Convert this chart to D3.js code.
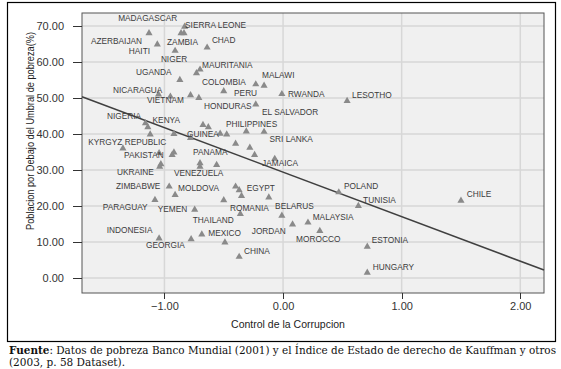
<!DOCTYPE html>
<html lang="es">
  <head>
    <meta charset="utf-8">
    <title>Pobreza vs Control de la Corrupcion</title>
    <script src="https://cdn.jsdelivr.net/npm/d3@7"></script>
    <style>
      body { margin: 0; background: #fff; }
      .axis path { display: none; }
      .axis line { stroke: #333; shape-rendering: crispEdges; }
      .axis text { font-family: "Liberation Sans", Arial, sans-serif; font-size: 11px; fill: #333; }
      .lbl { font-family: "Liberation Sans", Arial, sans-serif; font-size: 8.3px; fill: #3c3c3c; }
    </style>
  </head>
  <body>
    <script>

    //Width and height
    var w = 561;
    var h = 369;

    //Scatter points: [control de la corrupcion, % bajo umbral de pobreza]
    var points = [
      [-1.13, 68.0], [-0.83, 69.8], [-0.86, 68.0], [-0.835, 68.0], [-1.06, 64.9],
      [-0.64, 64.0], [-0.91, 63.1], [-0.73, 56.9], [-0.70, 57.9], [-0.87, 55.0],
      [-0.23, 53.8], [-0.16, 53.4], [-0.50, 51.9], [-0.01, 51.1], [0.54, 49.2],
      [-1.05, 51.0], [-0.95, 50.4], [-0.78, 50.8], [-0.71, 50.0], [-0.23, 48.2],
      [-1.16, 43.0], [-1.14, 41.9], [-1.12, 39.9], [-0.92, 40.0], [-0.78, 38.9],
      [-0.675, 42.5], [-0.63, 41.9], [-0.53, 40.1], [-0.475, 39.9], [-0.40, 37.3],
      [-0.31, 40.7], [-0.16, 40.6], [-0.28, 36.2], [-0.24, 34.2], [-0.07, 33.1],
      [-1.35, 36.0], [-1.045, 34.7], [-0.935, 34.2], [-0.92, 34.9], [-1.03, 31.6],
      [-1.04, 30.9], [-0.70, 31.9], [-0.70, 30.9], [-0.56, 31.4], [-0.96, 25.4],
      [-0.91, 23.1], [-1.08, 21.7], [-0.50, 21.6], [-0.40, 25.4], [-0.37, 24.4],
      [-0.35, 22.8], [-0.12, 22.4], [-0.745, 19.0], [-0.36, 17.8], [-0.01, 17.3],
      [-1.045, 11.0], [-0.775, 10.8], [-0.685, 12.1], [-0.49, 9.9], [0.08, 14.9],
      [0.21, 15.4], [-0.37, 5.9], [0.31, 13.1], [0.47, 23.8], [0.635, 20.0],
      [1.50, 21.5], [0.71, 8.7], [0.71, 1.5]
    ];

    //Country labels: [name, x, y] (left edge of text, in data units)
    var labels = [
      ["MADAGASCAR", -1.39, 72.2], ["SIERRA LEONE", -0.826, 70.3], ["AZERBAIJAN", -1.62, 65.9],
      ["ZAMBIA", -0.978, 65.6], ["CHAD", -0.60, 66.1], ["HAITI", -1.30, 62.9],
      ["NIGER", -1.03, 60.75], ["MAURITANIA", -0.683, 59.0], ["UGANDA", -1.24, 57.1],
      ["COLOMBIA", -0.683, 54.4], ["MALAWI", -0.177, 56.25], ["NICARAGUA", -1.433, 52.2],
      ["PERU", -0.413, 51.25], ["RWANDA", 0.042, 51.1], ["LESOTHO", 0.582, 50.75],
      ["VIETNAM", -1.147, 49.4], ["HONDURAS", -0.666, 47.8], ["EL SALVADOR", -0.177, 46.0],
      ["NIGERIA", -1.484, 45.0], ["KENYA", -1.10, 43.75], ["PHILIPPINES", -0.481, 42.8],
      ["GUINEA", -0.809, 40.0], ["KYRGYZ REPUBLIC", -1.642, 37.7], ["SRI LANKA", -0.114, 38.5],
      ["PANAMA", -0.759, 35.1], ["PAKISTAN", -1.341, 34.2], ["JAMAICA", -0.177, 32.0],
      ["UKRAINE", -1.40, 29.5], ["VENEZUELA", -0.919, 29.1], ["ZIMBABWE", -1.408, 25.4],
      ["MOLDOVA", -0.885, 24.9], ["EGYPT", -0.306, 25.1], ["POLAND", 0.514, 25.4],
      ["CHILE", 1.549, 23.3], ["TUNISIA", 0.675, 21.5], ["BELARUS", -0.067, 20.1],
      ["PARAGUAY", -1.52, 19.6], ["YEMEN", -1.056, 19.1], ["ROMANIA", -0.447, 19.4],
      ["MALAYSIA", 0.25, 17.0], ["THAILAND", -0.761, 16.0], ["INDONESIA", -1.486, 13.3],
      ["JORDAN", -0.264, 12.9], ["MEXICO", -0.63, 12.4], ["MOROCCO", 0.11, 10.8],
      ["ESTONIA", 0.748, 10.6], ["GEORGIA", -1.155, 9.2], ["CHINA", -0.329, 7.6],
      ["HUNGARY", 0.756, 3.1]
    ];

    //Fitted line: [intercept, slope]
    var fitLine = [29.4, -12.36];

    //Tick values
    var xTicks = [-1, 0, 1, 2];
    var yTicks = [0, 10, 20, 30, 40, 50, 60, 70];

    //Create scale functions
    var xScale = d3.scaleLinear()
               .domain([-1.695, 2.20])
               .range([82, 544]);

    var yScale = d3.scaleLinear()
               .domain([-4.17, 73.6])
               .range([293, 13]);

    //Create SVG element
    var svg = d3.select("body")
          .append("svg")
          .attr("width", w)
          .attr("height", h);

    //Outer frame
    svg.append("rect")
       .attr("x", 7.5).attr("y", 2.5)
       .attr("width", 548).attr("height", 339)
       .attr("fill", "#fff")
       .attr("stroke", "#000")
       .attr("stroke-width", 1.2);

    //Plot background
    svg.append("rect")
       .attr("x", xScale.range()[0]).attr("y", yScale.range()[1])
       .attr("width", xScale.range()[1] - xScale.range()[0])
       .attr("height", yScale.range()[0] - yScale.range()[1])
       .attr("fill", "#f0f0f0");

    //Grid lines
    svg.append("g").selectAll("line")
       .data(yTicks).enter().append("line")
       .attr("x1", xScale.range()[0]).attr("x2", xScale.range()[1])
       .attr("y1", function(d) { return yScale(d); })
       .attr("y2", function(d) { return yScale(d); })
       .attr("stroke", "#d7d7d7").attr("stroke-width", 1.5);

    svg.append("g").selectAll("line")
       .data(xTicks).enter().append("line")
       .attr("y1", yScale.range()[0]).attr("y2", yScale.range()[1])
       .attr("x1", function(d) { return xScale(d); })
       .attr("x2", function(d) { return xScale(d); })
       .attr("stroke", "#d7d7d7").attr("stroke-width", 1.5);

    //Plot border
    svg.append("rect")
       .attr("x", xScale.range()[0]).attr("y", yScale.range()[1])
       .attr("width", xScale.range()[1] - xScale.range()[0])
       .attr("height", yScale.range()[0] - yScale.range()[1])
       .attr("fill", "none")
       .attr("stroke", "#555");

    //Regression line
    var xd = xScale.domain();
    svg.append("line")
       .attr("x1", xScale(xd[0])).attr("y1", yScale(fitLine[0] + fitLine[1] * xd[0]))
       .attr("x2", xScale(xd[1])).attr("y2", yScale(fitLine[0] + fitLine[1] * xd[1]))
       .attr("stroke", "#404040")
       .attr("stroke-width", 1.6);

    //Triangles
    var tri = d3.symbol().type(d3.symbolTriangle).size(22);
    svg.append("g").selectAll("path")
       .data(points).enter().append("path")
       .attr("d", tri)
       .attr("transform", function(d) { return "translate(" + xScale(d[0]) + "," + yScale(d[1]) + ")"; })
       .attr("fill", "#8a8a8a");

    //Labels
    svg.append("g").selectAll("text")
       .data(labels).enter().append("text")
       .attr("class", "lbl")
       .attr("x", function(d) { return xScale(d[1]); })
       .attr("y", function(d) { return yScale(d[2]); })
       .attr("dy", "0.35em")
       .text(function(d) { return d[0]; });

    //Axes
    var xAxis = d3.axisBottom(xScale).tickValues(xTicks).tickFormat(d3.format(".2f")).tickSize(6).tickPadding(3);
    var yAxis = d3.axisLeft(yScale).tickValues(yTicks).tickFormat(d3.format(".2f")).tickSize(9).tickPadding(9);

    svg.append("g")
      .attr("class", "x axis")
      .attr("transform", "translate(0," + yScale.range()[0] + ")")
      .call(xAxis);

    svg.append("g")
      .attr("class", "y axis")
      .attr("transform", "translate(" + xScale.range()[0] + ",0)")
      .call(yAxis);

    //Axis titles
    svg.append("text")
       .attr("x", 288).attr("y", 328)
       .attr("text-anchor", "middle")
       .style("font-family", "Liberation Sans, Arial, sans-serif")
       .style("font-size", "10.5px")
       .attr("fill", "#222")
       .text("Control de la Corrupcion");

    svg.append("text")
       .attr("transform", "translate(34,131) rotate(-90)")
       .attr("text-anchor", "middle")
       .attr("textLength", 198)
       .attr("lengthAdjust", "spacingAndGlyphs")
       .style("font-family", "Liberation Sans, Arial, sans-serif")
       .style("font-size", "10.5px")
       .attr("fill", "#222")
       .text("Poblacion por Debajo del Umbral de pobreza(%)");

    //Source note
    var note = svg.append("text")
       .attr("x", 9).attr("y", 354)
       .attr("textLength", 547)
       .attr("lengthAdjust", "spacingAndGlyphs")
       .style("font-family", "DejaVu Serif, Liberation Serif, serif")
       .style("font-size", "10.5px")
       .attr("fill", "#111");
    note.append("tspan").style("font-weight", "bold").text("Fuente");
    note.append("tspan").text(": Datos de pobreza Banco Mundial (2001) y el Índice de Estado de derecho de Kauffman y otros");

    svg.append("text")
       .attr("x", 9).attr("y", 366)
       .style("font-family", "DejaVu Serif, Liberation Serif, serif")
       .style("font-size", "10.5px")
       .attr("fill", "#111")
       .text("(2003, p. 58 Dataset).");

    </script>
  </body>
</html>
